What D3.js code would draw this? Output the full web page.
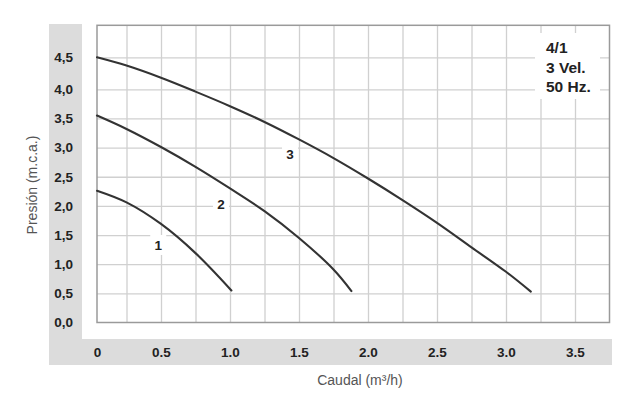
<!DOCTYPE html>
<html>
<head>
<meta charset="utf-8">
<script src="https://cdn.jsdelivr.net/npm/d3@7"></script>
<style>
  body { margin: 0; background: #fff; }
  svg { display: block; font-family: "Liberation Sans", Arial, Helvetica, sans-serif; }
</style>
</head>
<body>
<div id="chart"></div>
<script>
// pump curves, flow (m3/h) vs head (m.c.a.)
const flow1 = [0, 0.25, 0.5, 0.75, 1.01];
const head1 = [2.26, 2.06, 1.69, 1.19, 0.55];
const flow2 = [0, 0.25, 0.5, 0.75, 1.0, 1.25, 1.5, 1.75, 1.88];
const head2 = [3.55, 3.32, 3.01, 2.67, 2.30, 1.91, 1.45, 0.91, 0.54];
const flow3 = [0, 0.25, 0.5, 0.75, 1.0, 1.25, 1.5, 1.75, 2.0, 2.25, 2.5, 2.75, 3.0, 3.18];
const head3 = [4.5, 4.37, 4.18, 3.96, 3.71, 3.44, 3.14, 2.82, 2.47, 2.10, 1.71, 1.29, 0.87, 0.53];

const speedNames = ['1', '2', '3'];
const speedLabelFlow = [0.48, 0.935, 1.435];
const speedLabelHead = [1.33, 2.03, 2.89];

const xTicks = [0, 0.5, 1.0, 1.5, 2.0, 2.5, 3.0, 3.5];
const yTicks = [0, 0.5, 1.0, 1.5, 2.0, 2.5, 3.0, 3.5, 4.0, 4.5];
const legendLines = ['4/1', '3 Vel.', '50 Hz.'];

const W = 637, H = 399;
const plotLeft = 97, plotRight = 609.5, plotBottom = 322.5;

const svg = d3.select('#chart').append('svg')
  .attr('width', W)
  .attr('height', H);

// the drawing has a slightly narrow first column, so the scale is piecewise
const x = d3.scaleLinear().domain([0, 0.25, 3.75]).range([plotLeft, 126.5, plotRight]);
const y = d3.scaleLinear().domain([0, 4, 4.5]).range([plotBottom, 89.3, 57.3]);
const plotTop = y(5.0);

// grey L-shaped band behind the tick labels
svg.append('rect').attr('x', 49).attr('y', 24).attr('width', 33).attr('height', 341).attr('fill', '#dcdcdc');
svg.append('rect').attr('x', 49).attr('y', 339).attr('width', 563).attr('height', 26).attr('fill', '#dcdcdc');

// grid
const vGrid = d3.range(1, 15).map(i => i * 0.25);
const hGrid = yTicks.filter(v => v > 0);

svg.append('g')
  .attr('transform', `translate(0,${plotBottom})`)
  .call(d3.axisBottom(x).tickValues(vGrid).tickSize(-(plotBottom - plotTop)).tickFormat(''))
  .call(g => g.select('.domain').remove())
  .call(g => g.selectAll('line').attr('stroke', '#d0d0d0').attr('stroke-width', 1.3));

svg.append('g')
  .attr('transform', `translate(${plotLeft},0)`)
  .call(d3.axisLeft(y).tickValues(hGrid).tickSize(-(plotRight - plotLeft)).tickFormat(''))
  .call(g => g.select('.domain').remove())
  .call(g => g.selectAll('line').attr('stroke', '#d0d0d0').attr('stroke-width', 1.3));

// frame
svg.append('rect')
  .attr('x', plotLeft).attr('y', plotTop)
  .attr('width', plotRight - plotLeft).attr('height', plotBottom - plotTop)
  .attr('fill', 'none').attr('stroke', '#9a9a9a').attr('stroke-width', 1.5);

// tick labels
svg.append('g')
  .attr('transform', 'translate(73,0)')
  .call(d3.axisLeft(y).tickValues(yTicks).tickSize(0).tickPadding(0)
    .tickFormat(d => d3.format('.1f')(d).replace('.', ',')))
  .call(g => g.select('.domain').remove())
  .call(g => g.selectAll('text').attr('fill', '#222').style('font-size', '13.5px').style('font-weight', 'bold')
    .style('font-family', '"Liberation Sans", Arial, sans-serif'));

svg.append('g')
  .attr('transform', 'translate(0,347)')
  .call(d3.axisBottom(x).tickValues(xTicks).tickSize(0).tickPadding(0)
    .tickFormat(d => d === 0 ? '0' : d3.format('.1f')(d)))
  .call(g => g.select('.domain').remove())
  .call(g => g.selectAll('text').attr('fill', '#222').style('font-size', '13.5px').style('font-weight', 'bold')
    .style('font-family', '"Liberation Sans", Arial, sans-serif'));

// axis titles
svg.append('text')
  .attr('transform', 'translate(37,185) rotate(-90)')
  .attr('text-anchor', 'middle')
  .attr('fill', '#555')
  .style('font-size', '14px')
  .text('Presión (m.c.a.)');

svg.append('text')
  .attr('x', 360).attr('y', 385)
  .attr('text-anchor', 'middle')
  .attr('fill', '#555')
  .style('font-size', '14px')
  .text('Caudal (m³/h)');

// curves
const line = d3.line()
  .x(d => x(d[0]))
  .y(d => y(d[1]))
  .curve(d3.curveCatmullRom.alpha(0.5));

const curves = [
  d3.zip(flow1, head1),
  d3.zip(flow2, head2),
  d3.zip(flow3, head3)
];

svg.append('g').selectAll('path')
  .data(curves)
  .join('path')
  .attr('d', line)
  .attr('fill', 'none')
  .attr('stroke', '#333')
  .attr('stroke-width', 2.1)
  .attr('stroke-linecap', 'round');

// speed labels with white patch behind
const labels = svg.append('g').selectAll('g')
  .data(speedNames)
  .join('g')
  .attr('transform', (d, i) => `translate(${x(speedLabelFlow[i])},${y(speedLabelHead[i])})`);

labels.append('rect')
  .attr('x', -8).attr('y', -10).attr('width', 16).attr('height', 20)
  .attr('fill', '#fff');

labels.append('text')
  .attr('text-anchor', 'middle')
  .attr('dy', '0.36em')
  .attr('fill', '#222')
  .style('font-size', '13.5px')
  .style('font-weight', 'bold')
  .text(d => d);

// model box
svg.append('rect')
  .attr('x', 535).attr('y', 33).attr('width', 65).attr('height', 66)
  .attr('fill', '#fff');

svg.append('g').selectAll('text')
  .data(legendLines)
  .join('text')
  .attr('x', 546)
  .attr('y', (d, i) => 53 + i * 19.5)
  .attr('fill', '#222')
  .style('font-size', '15.5px')
  .style('font-weight', 'bold')
  .text(d => d);
</script>
</body>
</html>
